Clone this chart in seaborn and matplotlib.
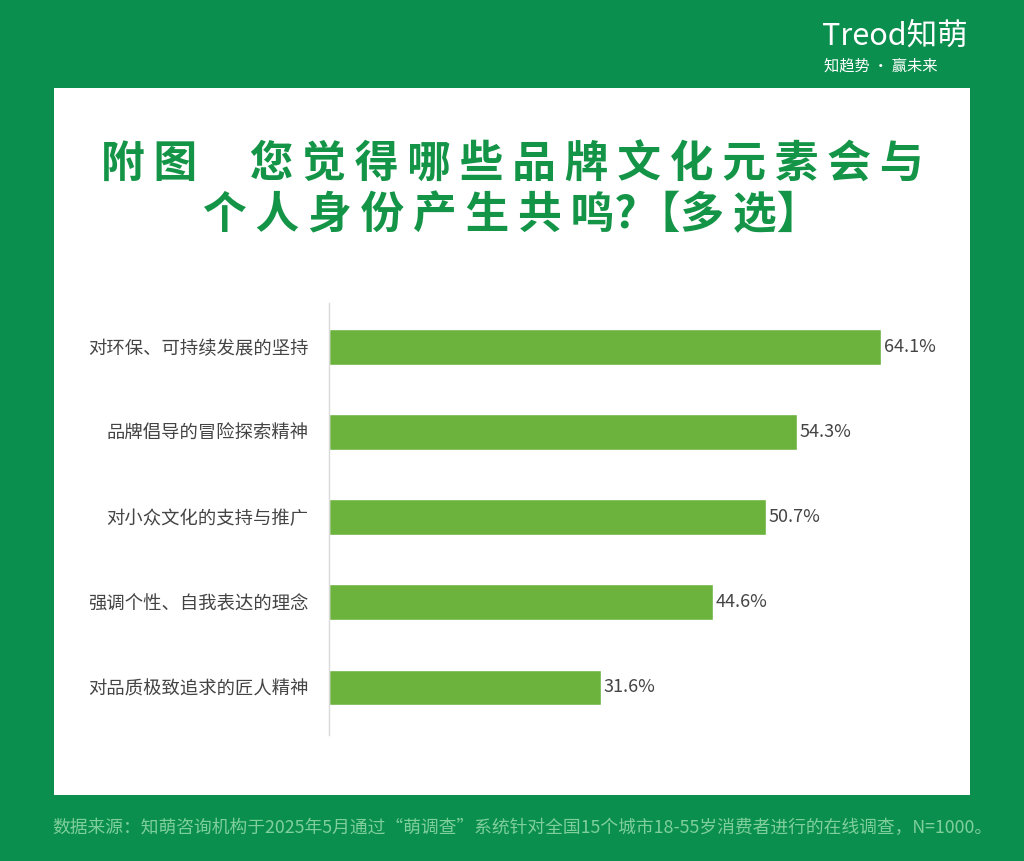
import seaborn as sns
import matplotlib.pyplot as plt
import pandas as pd
from matplotlib.patches import Rectangle

# --- data ---
categories = ["对环保、可持续发展的坚持", "品牌倡导的冒险探索精神", "对小众文化的支持与推广",
              "强调个性、自我表达的理念", "对品质极致追求的匠人精神"]
values = [64.1, 54.3, 50.7, 44.6, 31.6]

df = pd.DataFrame({"item": categories, "pct": values})

sns.set_style("white")
plt.rcParams["font.family"] = ["Noto Sans CJK SC", "DejaVu Sans"]

BG = "#0b8f4e"
TITLE = "#139446"
BAR = "#6cb33e"

fig = plt.figure(figsize=(10.24, 8.61), dpi=100, facecolor=BG)

# white panel (behind the axes)
fig.patches.append(Rectangle((54 / 1024, 1 - 795 / 861), (970 - 54) / 1024, (795 - 88) / 861,
                             transform=fig.transFigure, facecolor="white", edgecolor="none", zorder=-5))

ax = fig.add_axes([329 / 1024, 1 - 735 / 861, (70 * 8.61) / 1024, 432 / 861])
ax.set_zorder(2)
sns.barplot(data=df, x="pct", y="item", orient="h", color=BAR, width=0.42,
            saturation=1, ax=ax)
ax.set_facecolor("none")
ax.set_xlim(0, 70)
ax.set_ylim(4.56, -0.52)
ax.set_xlabel("")
ax.set_ylabel("")
ax.set_xticks([])
ax.tick_params(axis="y", length=0, pad=15, labelsize=13.2, labelcolor="#444444")
for s in ["top", "right", "bottom"]:
    ax.spines[s].set_visible(False)
ax.spines["left"].set_color("#d9d9d9")
ax.spines["left"].set_linewidth(1)

for cont in ax.containers:
    ax.bar_label(cont, labels=[f"{v:.1f}%" for v in values], padding=2,
                 fontsize=13, color="#444444")

# title with letter spacing
sp = "\u2009"
line1 = sp.join("附图") + sp + "\u3000" + sp.join("您觉得哪些品牌文化元素会与")
line2 = sp.join("个人身份产生共鸣") + "?" + "【" + sp.join("多选") + "】"
fig.text(0.5, 1 - 165 / 861, line1, ha="center", va="center",
         fontsize=31.5, fontweight="bold", color=TITLE)
fig.text(0.5, 1 - 215 / 861, line2, ha="center", va="center",
         fontsize=31.5, fontweight="bold", color=TITLE)

# logo
fig.text(968 / 1024, 1 - 36 / 861, "Treod知萌", ha="right", va="center",
         fontsize=22, color="white")
fig.text(881 / 1024, 1 - 66 / 861, "知趋势 · 赢未来", ha="center", va="center",
         fontsize=11, color="white")

# footer
fig.text(52 / 1024, 1 - 828 / 861,
         "数据来源：知萌咨询机构于2025年5月通过“萌调查”系统针对全国15个城市18-55岁消费者进行的在线调查，N=1000。",
         ha="left", va="center", fontsize=12.8, color="#7fcf9b")

fig.savefig("out.png", dpi=100, facecolor=BG)
plt.close()
